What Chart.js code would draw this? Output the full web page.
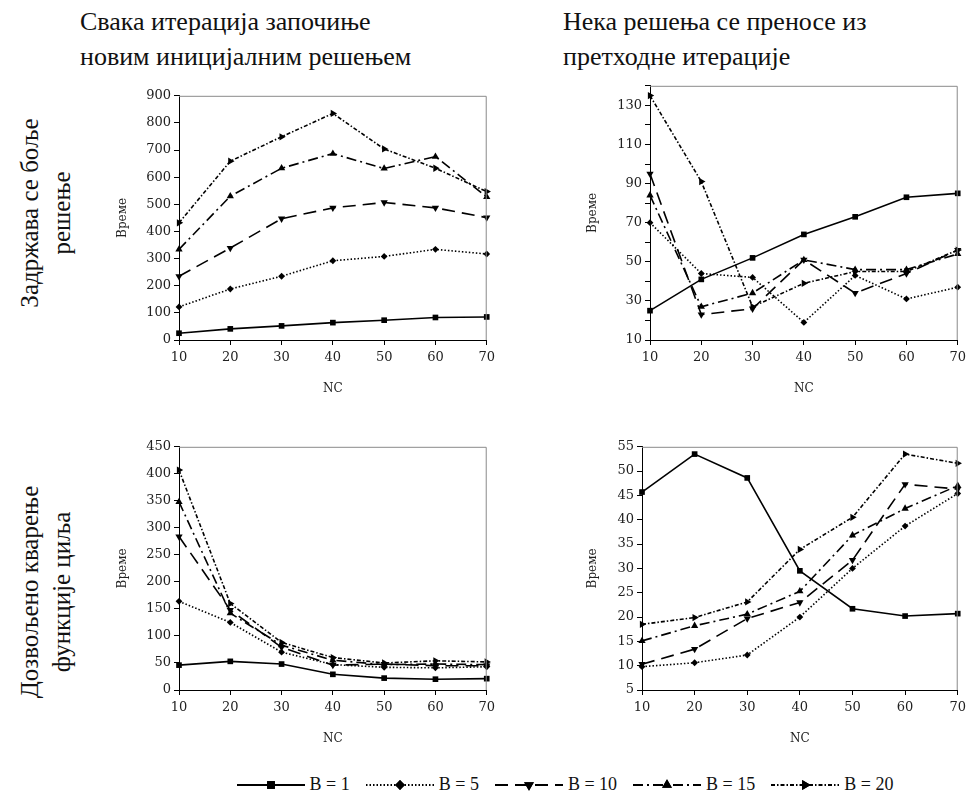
<!DOCTYPE html>
<html lang="sr">
<head>
<meta charset="UTF-8">
<title>Време у зависности од NC</title>
<style>
    body {
        margin: 0;
        width: 971px;
        height: 805px;
        background: #fff;
        position: relative;
        overflow: hidden;
        font-family: 'Liberation Serif', 'DejaVu Serif', serif;
        color: #111;
    }
    .col-title {
        position: absolute;
        top: 4px;
        font-size: 26px;
        line-height: 35px;
        white-space: nowrap;
    }
    .row-title {
        position: absolute;
        font-size: 25px;
        line-height: 32px;
        white-space: nowrap;
        text-align: center;
        transform: translate(-50%, -50%) rotate(-90deg);
    }
    canvas.chart {
        position: absolute;
    }
    #legend {
        position: absolute;
        top: 774px;
        left: 0;
        width: 1128px;
        display: flex;
        justify-content: center;
        align-items: center;
        font-size: 18px;
    }
    #legend .item {
        display: flex;
        align-items: center;
        margin: 0 7px;
    }
    #legend canvas { margin-right: 3px; }
</style>
</head>
<body>
<div class="col-title" style="left:80px">Свака итерација започиње<br>новим иницијалним решењем</div>
<div class="col-title" style="left:563px">Нека решења се преносе из<br>претходне итерације</div>
<div class="row-title" style="left:46px; top:213px">Задржава се боље<br>решење</div>
<div class="row-title" style="left:46px; top:592px">Дозвољено кварење<br>функције циља</div>

<canvas class="chart" id="tl" width="390" height="315" style="left:110px; top:85px"></canvas>
<canvas class="chart" id="tr" width="391" height="325" style="left:580px; top:75px"></canvas>
<canvas class="chart" id="bl" width="390" height="314" style="left:110px; top:436px"></canvas>
<canvas class="chart" id="br" width="391" height="314" style="left:580px; top:436px"></canvas>

<div id="legend"></div>

<script src="https://cdn.jsdelivr.net/npm/chart.js"></script>
<script>
// x categories (NC)
const nc = [10, 20, 30, 40, 50, 60, 70];
const seriesNames = ['B = 1', 'B = 5', 'B = 10', 'B = 15', 'B = 20'];

// top left: keep better solution, new initial solution each iteration
const tlB1 = [25, 41, 52, 64, 73, 83, 85];
const tlB5 = [122, 188, 235, 292, 308, 334, 317];
const tlB10 = [235, 339, 447, 487, 507, 487, 451];
const tlB15 = [334, 530, 633, 687, 632, 676, 527];
const tlB20 = [432, 659, 749, 835, 704, 633, 547];

// top right: keep better solution, solutions carried over
const trB1 = [25, 41, 52, 64, 73, 83, 85];
const trB5 = [70, 44, 42, 19, 43, 31, 37];
const trB10 = [95, 23, 26, 51, 34, 44, 56];
const trB15 = [84, 27, 34, 51, 46, 46, 54];
const trB20 = [135, 91, 27, 39, 45, 45, 56];

// bottom left: worsening allowed, new initial solution
const blB1 = [46, 53, 48, 29, 22, 20, 21];
const blB5 = [164, 125, 70, 47, 42, 41, 43];
const blB10 = [284, 148, 79, 46, 48, 45, 45];
const blB15 = [348, 142, 83, 55, 47, 48, 47];
const blB20 = [407, 160, 88, 60, 50, 54, 52];

// bottom right: worsening allowed, solutions carried over
const brB1 = [45.7, 53.5, 48.6, 29.5, 21.7, 20.2, 20.7];
const brB5 = [9.8, 10.6, 12.2, 20, 30, 38.7, 45.4];
const brB10 = [10.3, 13.4, 19.7, 23, 31.7, 47.3, 46.3];
const brB15 = [15.1, 18.2, 20.6, 25.3, 36.8, 42.3, 47];
const brB20 = [18.5, 19.9, 23.1, 33.9, 40.5, 53.5, 51.6];

// y tick values per panel (labelled ones)
const tlTicks = [0, 100, 200, 300, 400, 500, 600, 700, 800, 900];
const trTicks = [10, 20, 30, 40, 50, 60, 70, 80, 90, 100, 110, 120, 130, 140];
const trLabels = [10, 30, 50, 70, 90, 110, 130];
const blTicks = [0, 50, 100, 150, 200, 250, 300, 350, 400, 450];
const brTicks = [5, 10, 15, 20, 25, 30, 35, 40, 45, 50, 55];

// line look for each series
const looks = [
    { dash: [], style: 'rect', rot: 0, r: 4, w: 1.6 },
    { dash: [1.5, 2], style: 'rectRot', rot: 0, r: 3.4, w: 1.6 },
    { dash: [13, 7], style: 'triangle', rot: 180, r: 4.2, w: 1.6 },
    { dash: [10, 4, 2, 4], style: 'triangle', rot: 0, r: 4.2, w: 1.6 },
    { dash: [4, 2, 1.5, 2], style: 'triangle', rot: 90, r: 4.2, w: 1.6 }
];

const tickFont = { family: "'DejaVu Serif', serif", size: 13 };
const titleFont = { family: "'DejaVu Serif', serif", size: 12 };

// gray box on the top and right of the plot
const boxPlugin = {
    id: 'box',
    afterDraw(chart) {
        const a = chart.chartArea, c = chart.ctx;
        c.save();
        c.strokeStyle = '#8a8a8a';
        c.lineWidth = 1;
        c.beginPath();
        c.moveTo(a.left, a.top + 0.5);
        c.lineTo(a.right - 0.5, a.top + 0.5);
        c.lineTo(a.right - 0.5, a.bottom);
        c.stroke();
        c.restore();
    }
};

function makeChart(id, series, yMin, yMax, ticks, labels, yWidth, padRight) {
    const datasets = series.map((vals, i) => ({
        label: seriesNames[i],
        data: vals,
        borderColor: '#000',
        backgroundColor: '#000',
        borderWidth: looks[i].w,
        borderDash: looks[i].dash,
        pointStyle: looks[i].style,
        pointRotation: looks[i].rot,
        pointRadius: looks[i].r,
        pointBorderWidth: 0,
        pointBackgroundColor: '#000',
        tension: 0,
        clip: false
    }));
    return new Chart(document.getElementById(id), {
        type: 'line',
        data: { labels: nc, datasets: datasets },
        options: {
            responsive: false,
            animation: false,
            layout: { padding: { top: 10, right: padRight, left: 0, bottom: 0 } },
            plugins: { legend: { display: false }, tooltip: { enabled: false } },
            scales: {
                x: {
                    offset: false,
                    grid: { drawOnChartArea: false, drawTicks: true, tickLength: 5, color: '#000' },
                    border: { display: true, color: '#000', width: 1 },
                    ticks: { color: '#222', font: tickFont, padding: 5, maxRotation: 0, autoSkip: false },
                    title: { display: true, text: 'NC', color: '#222', font: titleFont, padding: { top: 0, bottom: 4 } },
                    afterFit(s) { s.height = 60; }
                },
                y: {
                    min: yMin,
                    max: yMax,
                    grid: { drawOnChartArea: false, drawTicks: true, tickLength: 5, color: '#000' },
                    border: { display: true, color: '#000', width: 1 },
                    afterBuildTicks(s) { s.ticks = ticks.map(v => ({ value: v })); },
                    ticks: {
                        color: '#222',
                        font: tickFont,
                        padding: 3,
                        callback: v => (labels.includes(v) ? v : '')
                    },
                    title: { display: true, text: 'Време', color: '#222', font: titleFont, padding: { top: 6, bottom: 0 } },
                    afterFit(s) { s.width = yWidth; }
                }
            }
        },
        plugins: [boxPlugin]
    });
}

makeChart('tl', [tlB1, tlB5, tlB10, tlB15, tlB20], 0, 900, tlTicks, tlTicks, 69, 7);
makeChart('tr', [trB1, trB5, trB10, trB15, trB20], 10, 140, trTicks, trLabels, 70, 9);
makeChart('bl', [blB1, blB5, blB10, blB15, blB20], 0, 450, blTicks, blTicks, 69, 7);
makeChart('br', [brB1, brB5, brB10, brB15, brB20], 5, 55, brTicks, brTicks, 62, 9);

// legend: small line samples drawn with the same looks
const legend = document.getElementById('legend');
seriesNames.forEach((name, i) => {
    const item = document.createElement('div');
    item.className = 'item';
    const cv = document.createElement('canvas');
    cv.width = 72;
    cv.height = 16;
    const c = cv.getContext('2d');
    c.strokeStyle = '#000';
    c.lineWidth = 2;
    c.setLineDash(looks[i].dash);
    c.beginPath();
    c.moveTo(2, 8);
    c.lineTo(70, 8);
    c.stroke();
    c.setLineDash([]);
    Chart.helpers.drawPoint(c, {
        pointStyle: looks[i].style,
        rotation: looks[i].rot,
        radius: looks[i].r + 1.5,
        borderWidth: 0
    }, 36, 8);
    c.fillStyle = '#000';
    c.fill();
    const t = document.createElement('span');
    t.textContent = name;
    item.appendChild(cv);
    item.appendChild(t);
    legend.appendChild(item);
});
</script>
</body>
</html>
